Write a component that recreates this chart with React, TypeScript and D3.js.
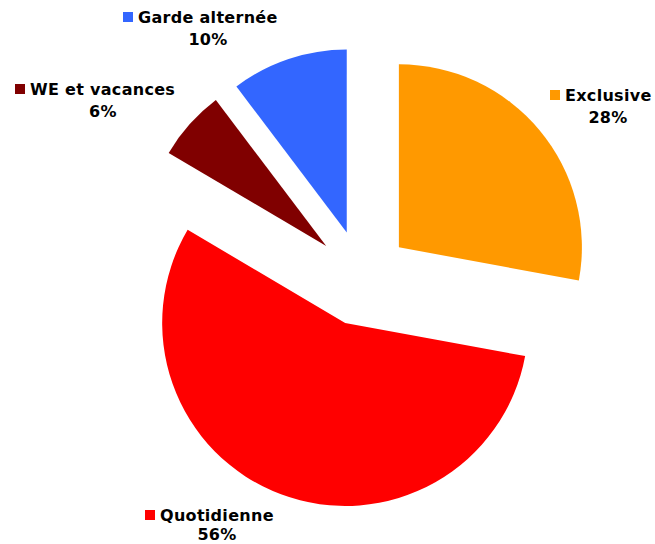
import React from "react";
import * as d3 from "d3";

const categories = ["Exclusive", "Quotidienne", "WE et vacances", "Garde alternée"];
const values = [27.9, 55.6, 6.2, 10.3];
const colors = ["#FF9900", "#FF0000", "#800000", "#3366FF"];

// label layout: [keyX, line1 baseline, line2 centre x, line2 baseline]
const labelLayout: [number, number, number, number][] = [
  [550, 101, 608, 123],
  [145, 521, 217, 540],
  [15, 95, 103, 117],
  [123, 23, 208, 45],
];

const W = 655;
const H = 544;
const CX = 362;
const CY = 278;
const R = 183;
const EXPLODE = 48;

export default function App() {
  const total = d3.sum(values);
  const pie = d3
    .pie<number>()
    .sort(null)
    .startAngle(0)
    .endAngle(2 * Math.PI)
    .value((d) => d);
  const arcs = pie(values);
  const arc = d3.arc<d3.PieArcDatum<number>>().innerRadius(0).outerRadius(R);

  return (
    <svg
      width={W}
      height={H}
      style={{ position: "absolute", left: 0, top: 0, background: "#fff" }}
      fontFamily="'DejaVu Sans', Verdana, sans-serif"
    >
      <rect x={0} y={0} width={W} height={H} fill="#fff" />
      <g transform={`translate(${CX},${CY})`}>
        {arcs.map((a, i) => {
          const mid = (a.startAngle + a.endAngle) / 2;
          const dx = EXPLODE * Math.sin(mid);
          const dy = -EXPLODE * Math.cos(mid);
          return (
            <path
              key={categories[i]}
              d={arc(a) || ""}
              fill={colors[i]}
              transform={`translate(${dx},${dy})`}
            />
          );
        })}
      </g>
      {categories.map((c, i) => {
        const [kx, b1, cx2, b2] = labelLayout[i];
        const pct = d3.format(".0%")(values[i] / total);
        return (
          <g key={c} fontWeight="bold" fontSize={16} fill="#000" letterSpacing={0.3}>
            <rect x={kx} y={b1 - 11} width={10} height={10} fill={colors[i]} />
            <text x={kx + 15} y={b1}>
              {c}
            </text>
            <text x={cx2} y={b2} textAnchor="middle">
              {pct}
            </text>
          </g>
        );
      })}
    </svg>
  );
}
